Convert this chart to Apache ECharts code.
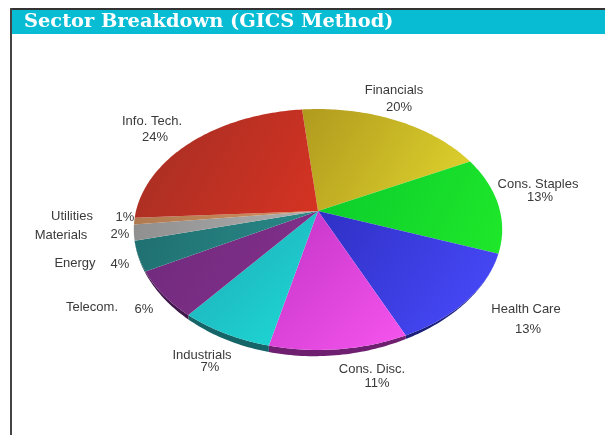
<!DOCTYPE html>
<html>
<head>
<meta charset="utf-8">
<style>html,body{margin:0;padding:0;background:#fff}#c{width:605px;height:435px;filter:blur(0.4px)}</style>
<script src="https://cdn.jsdelivr.net/npm/echarts@6/dist/echarts.min.js"></script>
</head>
<body>
<div id="c"></div>
<script>
// Data
var categories = ['Financials','Cons. Staples','Health Care','Cons. Disc.','Industrials','Telecom.','Energy','Materials','Utilities','Info. Tech.'];
var labelledPct = [20,13,13,11,7,6,4,2,1,24];
// wedge sizes as actually drawn in the picture (they differ slightly from the printed, rounded labels)
var drawnShare = [19.2,13.0,12.6,10.5,7.1,6.3,4.0,2.1,0.9,24.3];

// Styling
var faceStops = [['#b09a1e','#e2d62e'],['#0acb2c','#1fe82a'],['#2f30c4','#4a4cff'],['#c233c6','#f655ee'],['#1fa9b4','#1ddbd8'],['#6f2a7c','#85308c'],['#1f6f70','#2a8a88'],['#8f8f8f','#b0b0b0'],['#b07a50','#d09060'],['#a22e24','#d63322']];
var rimColors = ['#7a6c10','#0a7a1c','#1b1f78','#6e1f70','#156468','#40174a','#123f40','#555','#6a4a30','#6a1d16'];
var nameLayout = [[394,90],[538,184],[526,309],[372,369],[202,355],[92,307],[75,263],[61,235],[72,216],[152,121]];
var pctLayout  = [[399,107],[540,197],[528,329],[377,383],[210,367],[144,309],[120,264],[120,234],[125,217],[155,137]];

// Perspective projection of the tilted disc
var apexX = 318, apexY = 211, radX = 182, radY = 117.6, tilt = -0.1536, startDeg = -5.8;
var rimDepth = 6.5, rimPeakDeg = 190;
var totalShare = drawnShare.reduce(function (a, b) { return a + b; }, 0);
function project(deg) {
  var r = deg * Math.PI / 180, u = Math.sin(r), v = -Math.cos(r), w = 1 + tilt * v;
  return [apexX + radX * u / w, apexY + radY * v / w];
}
function bounds(i) {
  var before = 0;
  for (var k = 0; k < i; k++) before += drawnShare[k];
  var a = startDeg + before / totalShare * 360;
  return [a, a + drawnShare[i] / totalShare * 360];
}
function steps(a, b) {
  var out = [], n = Math.max(2, Math.ceil(b - a));
  for (var j = 0; j <= n; j++) out.push(a + (b - a) * j / n);
  return out;
}
function faceItem(params) {
  var i = params.dataIndex, b = bounds(i);
  return {
    type: 'polygon',
    shape: { points: [[apexX, apexY]].concat(steps(b[0], b[1]).map(project)) },
    style: { fill: new echarts.graphic.LinearGradient(0, 0, 1, 1, [
      { offset: 0, color: faceStops[i][0] }, { offset: 1, color: faceStops[i][1] }]) }
  };
}
function rimItem(params) {
  var i = params.dataIndex, b = bounds(i), ds = steps(b[0], b[1]);
  var top = ds.map(project);
  var low = ds.map(function (d) {
    var p = project(d), c = Math.max(0, Math.cos((d - rimPeakDeg) * Math.PI / 180));
    return [p[0], p[1] + rimDepth * c * c * c];
  }).reverse();
  return { type: 'polygon', shape: { points: top.concat(low) }, style: { fill: rimColors[i] } };
}

var labelFont = '13px "Liberation Sans", Arial, sans-serif';
var textEls = [];
categories.forEach(function (name, i) {
  textEls.push({ type: 'text', x: nameLayout[i][0], y: nameLayout[i][1], z: 10,
    style: { text: name, fill: '#3a3a3a', font: labelFont, align: 'center', verticalAlign: 'middle' } });
  textEls.push({ type: 'text', x: pctLayout[i][0], y: pctLayout[i][1], z: 10,
    style: { text: labelledPct[i] + '%', fill: '#3a3a3a', font: labelFont, align: 'center', verticalAlign: 'middle' } });
});
var frameEls = [
  { type: 'rect', shape: { x: 10, y: 8, width: 595, height: 2 }, style: { fill: '#333' }, z: 1 },
  { type: 'rect', shape: { x: 10, y: 8, width: 2, height: 427 }, style: { fill: '#444' }, z: 1 },
  { type: 'rect', shape: { x: 12, y: 10, width: 593, height: 24 }, style: { fill: '#07bcd3' }, z: 0 }
];

var chart = echarts.init(document.getElementById('c'), null, { renderer: 'canvas' });
chart.setOption({
  animation: false,
  backgroundColor: '#fff',
  title: {
    text: 'Sector Breakdown (GICS Method)', left: 24, top: 11, padding: 0,
    textStyle: { color: '#fff', fontFamily: '"DejaVu Serif", serif', fontWeight: 'bold', fontSize: 19.4, lineHeight: 22 }
  },
  graphic: { elements: frameEls.concat(textEls) },
  series: [
    { type: 'custom', coordinateSystem: 'none', z: 2, renderItem: rimItem, data: drawnShare, silent: true },
    { type: 'custom', coordinateSystem: 'none', z: 3, renderItem: faceItem, data: drawnShare, silent: true }
  ]
});
</script>
</body>
</html>
